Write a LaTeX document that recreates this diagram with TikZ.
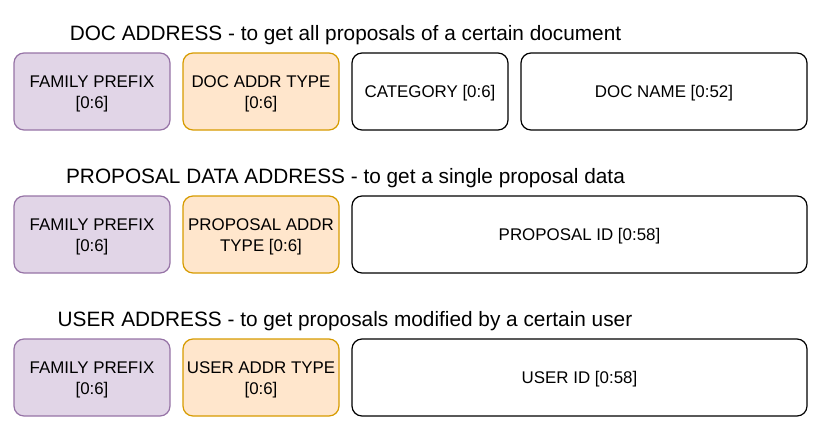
\documentclass[tikz,border=0pt]{standalone}
\usepackage{fontspec}
\setmainfont{Liberation Sans}
\definecolor{pfill}{HTML}{E1D5E7}
\definecolor{pdraw}{HTML}{9673A6}
\definecolor{ofill}{HTML}{FFE6CC}
\definecolor{odraw}{HTML}{D79B00}
\begin{document}
\begin{tikzpicture}[x=1pt,y=-1pt,
  field/.style={draw=black,fill=white,rounded corners=10pt,line width=1.2pt,align=center,inner sep=0pt,
    font=\fontsize{16.9}{21}\selectfont,text height=12.1pt,text depth=0pt},
  two/.style={text height=33.1pt,text depth=0pt},
  fam/.style={field,two,draw=pdraw,fill=pfill},
  typ/.style={field,two,draw=odraw,fill=ofill},
  title/.style={font=\fontsize{20.8}{24}\selectfont,inner sep=0pt,text height=14.9pt,text depth=0pt}]
\useasboundingbox (0,0) rectangle (821,431);
% row 1
\node[title] (t1) at (345.5,33) {DOC ADDRESS - to get all proposals of a certain document};
\node[fam,minimum width=156pt,minimum height=77pt] (a1) at (92,91.5) {FAMILY PREFIX\\{}[0:6]};
\node[typ,minimum width=156pt,minimum height=77pt] (b1) at (261,91.5) {DOC ADDR TYPE\\{}[0:6]};
\node[field,minimum width=156pt,minimum height=77pt] (c1) at (430,91.5) {CATEGORY [0:6]};
\node[field,minimum width=286pt,minimum height=77pt] (d1) at (664,91.5) {DOC NAME [0:52]};
% row 2
\node[title] (t2) at (345.5,176) {PROPOSAL DATA ADDRESS - to get a single proposal data};
\node[fam,minimum width=156pt,minimum height=77pt] (a2) at (92,234.5) {FAMILY PREFIX\\{}[0:6]};
\node[typ,minimum width=156pt,minimum height=77pt] (b2) at (261,234.5) {PROPOSAL ADDR\\TYPE [0:6]};
\node[field,minimum width=455pt,minimum height=77pt] (c2) at (579.5,234.5) {PROPOSAL ID [0:58]};
% row 3
\node[title] (t3) at (345,319) {USER ADDRESS - to get proposals modified by a certain user};
\node[fam,minimum width=156pt,minimum height=77pt] (a3) at (92,377.5) {FAMILY PREFIX\\{}[0:6]};
\node[typ,minimum width=156pt,minimum height=77pt] (b3) at (261,377.5) {USER ADDR TYPE\\{}[0:6]};
\node[field,minimum width=455pt,minimum height=77pt] (c3) at (579.5,377.5) {USER ID [0:58]};
\end{tikzpicture}
\end{document}
